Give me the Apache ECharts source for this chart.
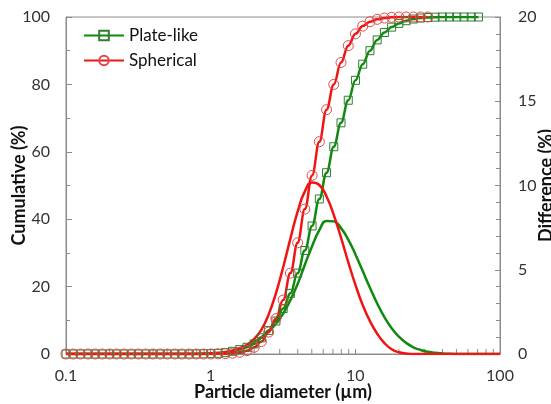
<!DOCTYPE html>
<html>
<head>
<meta charset="utf-8">
<script src="https://cdn.jsdelivr.net/npm/echarts@6/dist/echarts.min.js"></script>
<style>
  html, body { margin: 0; padding: 0; background: #fff; }
  #chart { width: 551px; height: 404px; }
</style>
</head>
<body>
<div id="chart"></div>
<script>
// particle size classes (um)
var sizes = [0.1, 0.112, 0.126, 0.142, 0.159, 0.178, 0.2, 0.224, 0.252, 0.283,
  0.317, 0.356, 0.399, 0.448, 0.502, 0.564, 0.632, 0.71, 0.796, 0.893,
  1.002, 1.125, 1.262, 1.416, 1.589, 1.783, 2.0, 2.244, 2.518, 2.825,
  3.17, 3.557, 3.991, 4.477, 5.024, 5.637, 6.325, 7.096, 7.962, 8.934,
  10.02, 11.25, 12.62, 14.16, 15.89, 17.83, 20.0, 22.44, 25.18, 28.25,
  31.7, 35.57, 39.91, 44.77, 50.24, 56.37, 63.25, 70.96, 79.62, 89.34, 100];

// cumulative (%)
var cumPlate = [0, 0, 0, 0, 0, 0, 0, 0, 0, 0, 0, 0, 0, 0, 0, 0, 0, 0, 0.02, 0.05,
  0.1, 0.2, 0.4, 0.8, 1.3, 2.0, 3.0, 4.8, 7.0, 9.8,
  13.5, 18, 24, 30.7, 38, 46, 53.8, 61.5, 68.6, 75.3,
  81.2, 86, 90, 93.2, 95.4, 97, 98.1, 98.9, 99.4, 99.7,
  99.85, 99.95, 100, 100, 100, 100, 100, 100];
var cumSpherical = [0, 0, 0, 0, 0, 0, 0, 0, 0, 0, 0, 0, 0, 0, 0, 0, 0, 0, 0, 0,
  0, 0.05, 0.1, 0.25, 0.5, 1.0, 2.0, 3.7, 6.5, 10.5,
  16, 24, 33, 43, 53, 63, 72.5, 80, 86.5, 91.5,
  95, 97.3, 98.6, 99.3, 99.7, 99.9, 100, 100, 100, 100, 100];

// difference (%)
var diffPlate = [0, 0, 0, 0, 0, 0, 0, 0, 0, 0, 0, 0, 0, 0, 0, 0, 0, 0, 0, 0.02,
  0.04, 0.07, 0.12, 0.2, 0.33, 0.5, 0.72, 1.0, 1.35, 1.8,
  2.4, 3.2, 4.15, 5.3, 6.4, 7.35, 7.9, 7.87, 7.47, 6.79,
  5.91, 4.92, 3.93, 3.0, 2.19, 1.53, 1.03, 0.66, 0.4, 0.24,
  0.135, 0.07, 0.035, 0.015, 0.005, 0, 0, 0, 0, 0, 0];
var diffSpherical = [0, 0, 0, 0, 0, 0, 0, 0, 0, 0, 0, 0, 0, 0, 0, 0, 0, 0, 0, 0,
  0.02, 0.05, 0.1, 0.2, 0.35, 0.55, 0.9, 1.45, 2.35, 3.6,
  5.15, 6.85, 8.45, 9.65, 10.18, 10.03, 9.35, 8.25, 6.9, 5.45,
  4.1, 2.9, 1.95, 1.2, 0.65, 0.28, 0.1, 0.03, 0, 0,
  0, 0, 0, 0, 0, 0, 0, 0, 0, 0, 0];

var minorTicks = [0.2, 0.3, 0.4, 0.5, 0.6, 0.7, 0.8, 0.9,
  2, 3, 4, 5, 6, 7, 8, 9, 20, 30, 40, 50, 60, 70, 80, 90];

var green = '#0f8a0f';
var red = '#f01414';
var axisGray = '#8c8c8c';
var font = 'Lato';

function pairs(arr) {
  return arr.map(function (v, i) { return [sizes[i], v]; });
}

var myChart = echarts.init(document.getElementById('chart'));

var titleStyle = { fontFamily: font, fontSize: 18, fontWeight: 'bold', color: '#111' };

option = {
  animation: false,
  textStyle: { fontFamily: font },
  grid: {
    left: 66, right: 51, top: 17, bottom: 50,
    outerBoundsMode: 'none',
    show: true, borderColor: axisGray, borderWidth: 1
  },
  legend: {
    data: ['Plate-like', 'Spherical'],
    orient: 'vertical',
    left: 83, top: 27, padding: 0,
    itemWidth: 40, itemHeight: 12, itemGap: 8,
    textStyle: { fontFamily: font, fontSize: 17, color: '#111' }
  },
  xAxis: {
    type: 'log', logBase: 10, min: 0.1, max: 100,
    name: 'Particle diameter (\u00b5m)', nameLocation: 'middle', nameGap: 29,
    nameMoveOverlap: false,
    nameTextStyle: titleStyle,
    axisLine: { lineStyle: { color: axisGray } },
    axisTick: { inside: true, length: 5, lineStyle: { color: axisGray } },
    axisLabel: { fontSize: 16, color: '#333', margin: 14 },
    splitLine: { show: false }
  },
  yAxis: [{
    type: 'value', min: 0, max: 100, interval: 20,
    name: 'Cumulative (%)', nameLocation: 'middle', nameGap: 38,
    nameMoveOverlap: false,
    nameTextStyle: titleStyle,
    axisLine: { show: true, lineStyle: { color: axisGray } },
    axisTick: { show: true, inside: true, length: 6, lineStyle: { color: axisGray } },
    minorTick: { show: true, splitNumber: 2, length: 4, lineStyle: { color: axisGray } },
    axisLabel: { fontSize: 16, color: '#333', margin: 16 },
    splitLine: { show: false }
  }, {
    type: 'value', min: 0, max: 20, interval: 5, position: 'right',
    name: 'Difference (%)', nameLocation: 'middle', nameGap: 37, nameRotate: 90,
    nameMoveOverlap: false,
    nameTextStyle: titleStyle,
    axisLine: { show: true, lineStyle: { color: axisGray } },
    axisTick: { show: true, inside: true, length: 5, lineStyle: { color: axisGray } },
    minorTick: { show: true, splitNumber: 5, length: 4, lineStyle: { color: axisGray } },
    axisLabel: { fontSize: 16, color: '#333', margin: 18 },
    splitLine: { show: false }
  }],
  series: [{
    type: 'custom',
    name: 'minor',
    silent: true,
    xAxisIndex: 0, yAxisIndex: 0,
    data: minorTicks.map(function (v) { return [v, 0]; }),
    renderItem: function (params, api) {
      var p = api.coord([api.value(0), 0]);
      return {
        type: 'line',
        shape: { x1: p[0], y1: p[1], x2: p[0], y2: p[1] - 5 },
        style: { stroke: axisGray, lineWidth: 1 }
      };
    },
    z: 1
  }, {
    name: 'Plate-like diff',
    type: 'line', yAxisIndex: 1,
    data: pairs(diffPlate),
    smooth: 0.5,
    showSymbol: false,
    lineStyle: { color: green, width: 2.5 },
    itemStyle: { color: green }
  }, {
    name: 'Plate-like',
    type: 'line', yAxisIndex: 0,
    data: pairs(cumPlate),
    smooth: 0.4, smoothMonotone: 'x',
    symbol: 'rect', symbolSize: 8,
    lineStyle: { color: green, width: 2.5 },
    itemStyle: { color: 'rgba(255,255,255,0)', borderColor: '#2f7d2f', borderWidth: 1 }
  }, {
    name: 'Spherical diff',
    type: 'line', yAxisIndex: 1,
    data: pairs(diffSpherical),
    smooth: 0.5,
    showSymbol: false,
    lineStyle: { color: red, width: 2.5 },
    itemStyle: { color: red }
  }, {
    name: 'Spherical',
    type: 'line', yAxisIndex: 0,
    data: pairs(cumSpherical),
    smooth: 0.4, smoothMonotone: 'x',
    symbol: 'circle', symbolSize: 10,
    lineStyle: { color: red, width: 2.5 },
    itemStyle: { color: 'rgba(255,255,255,0)', borderColor: '#e04848', borderWidth: 1 }
  }]
};

myChart.setOption(option);
</script>
</body>
</html>
